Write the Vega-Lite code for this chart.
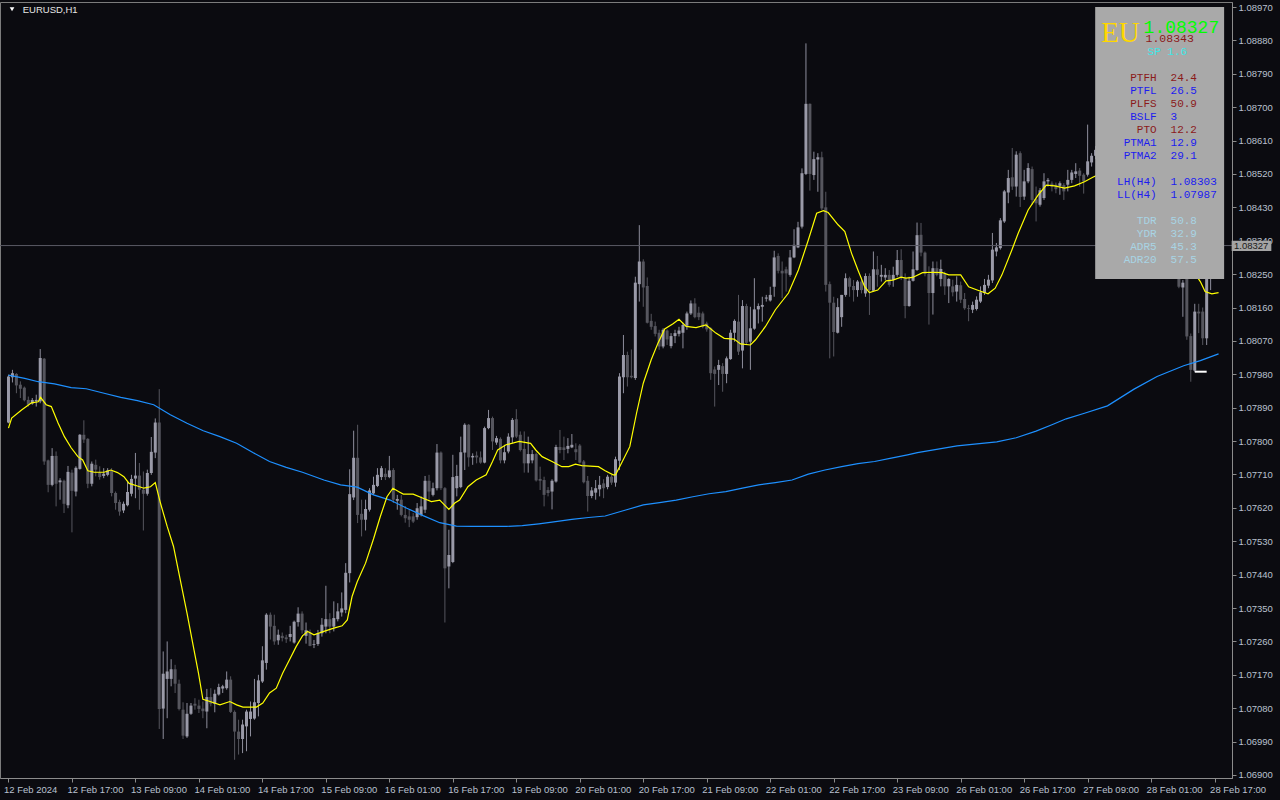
{
"$schema":"https://vega.github.io/schema/vega-lite/v6.json",
"width":1232,"height":776,
"autosize":{"type":"none"},
"padding":{"left":0,"top":2,"right":48,"bottom":22},
"background":"#0b0b10",
"config":{"view":{"stroke":"#7c7c7c","fill":"#0b0b10"},"axis":{"grid":false,"labelColor":"#b9c1cf","labelFont":"Liberation Sans","labelFontSize":9.5,"domainColor":"#8c8c8c","tickColor":"#8c8c8c","tickSize":4,"labelPadding":2,"labelFlush":false,"labelOverlap":false}},
"datasets":{
"bars":[
{"i":0,"o":1.07850,"h":1.07979,"l":1.07848,"c":1.07974},
{"i":1,"o":1.07972,"h":1.07992,"l":1.07958,"c":1.07983},
{"i":2,"o":1.07981,"h":1.07983,"l":1.07929,"c":1.07950},
{"i":3,"o":1.07952,"h":1.07961,"l":1.07916,"c":1.07941},
{"i":4,"o":1.07944,"h":1.07947,"l":1.07907,"c":1.07910},
{"i":5,"o":1.07911,"h":1.07920,"l":1.07893,"c":1.07898},
{"i":6,"o":1.07901,"h":1.07916,"l":1.07898,"c":1.07911},
{"i":7,"o":1.07907,"h":1.07925,"l":1.07893,"c":1.07911},
{"i":8,"o":1.07907,"h":1.08048,"l":1.07902,"c":1.08024},
{"i":9,"o":1.08022,"h":1.08024,"l":1.07736,"c":1.07745},
{"i":10,"o":1.07748,"h":1.07750,"l":1.07662,"c":1.07682},
{"i":11,"o":1.07682,"h":1.07781,"l":1.07678,"c":1.07760},
{"i":12,"o":1.07760,"h":1.07772,"l":1.07624,"c":1.07685},
{"i":13,"o":1.07689,"h":1.07700,"l":1.07642,"c":1.07694},
{"i":14,"o":1.07693,"h":1.07696,"l":1.07606,"c":1.07631},
{"i":15,"o":1.07627,"h":1.07733,"l":1.07619,"c":1.07717},
{"i":16,"o":1.07715,"h":1.07723,"l":1.07554,"c":1.07666},
{"i":17,"o":1.07664,"h":1.07732,"l":1.07651,"c":1.07728},
{"i":18,"o":1.07725,"h":1.07819,"l":1.07723,"c":1.07817},
{"i":19,"o":1.07817,"h":1.07856,"l":1.07795,"c":1.07804},
{"i":20,"o":1.07806,"h":1.07808,"l":1.07673,"c":1.07685},
{"i":21,"o":1.07685,"h":1.07745,"l":1.07678,"c":1.07739},
{"i":22,"o":1.07736,"h":1.07750,"l":1.07705,"c":1.07723},
{"i":23,"o":1.07715,"h":1.07732,"l":1.07696,"c":1.07703},
{"i":24,"o":1.07706,"h":1.07727,"l":1.07700,"c":1.07712},
{"i":25,"o":1.07709,"h":1.07727,"l":1.07705,"c":1.07721},
{"i":26,"o":1.07720,"h":1.07727,"l":1.07651,"c":1.07660},
{"i":27,"o":1.07660,"h":1.07664,"l":1.07615,"c":1.07633},
{"i":28,"o":1.07636,"h":1.07642,"l":1.07599,"c":1.07610},
{"i":29,"o":1.07613,"h":1.07637,"l":1.07606,"c":1.07631},
{"i":30,"o":1.07627,"h":1.07691,"l":1.07624,"c":1.07663},
{"i":31,"o":1.07658,"h":1.07709,"l":1.07651,"c":1.07698},
{"i":32,"o":1.07699,"h":1.07768,"l":1.07646,"c":1.07707},
{"i":33,"o":1.07707,"h":1.07741,"l":1.07615,"c":1.07669},
{"i":34,"o":1.07669,"h":1.07718,"l":1.07559,"c":1.07658},
{"i":35,"o":1.07658,"h":1.07723,"l":1.07653,"c":1.07714},
{"i":36,"o":1.07714,"h":1.07811,"l":1.07709,"c":1.07771},
{"i":37,"o":1.07769,"h":1.07861,"l":1.07754,"c":1.07850},
{"i":38,"o":1.07850,"h":1.07940,"l":1.07024,"c":1.07078},
{"i":39,"o":1.07079,"h":1.07233,"l":1.06997,"c":1.07173},
{"i":40,"o":1.07159,"h":1.07260,"l":1.07053,"c":1.07179},
{"i":41,"o":1.07159,"h":1.07212,"l":1.07139,"c":1.07185},
{"i":42,"o":1.07185,"h":1.07197,"l":1.07121,"c":1.07146},
{"i":43,"o":1.07146,"h":1.07157,"l":1.07074,"c":1.07078},
{"i":44,"o":1.07076,"h":1.07096,"l":1.06997,"c":1.07006},
{"i":45,"o":1.07004,"h":1.07094,"l":1.07000,"c":1.07065},
{"i":46,"o":1.07065,"h":1.07094,"l":1.07062,"c":1.07087},
{"i":47,"o":1.07092,"h":1.07107,"l":1.07076,"c":1.07087},
{"i":48,"o":1.07087,"h":1.07103,"l":1.07067,"c":1.07078},
{"i":49,"o":1.07079,"h":1.07098,"l":1.07053,"c":1.07072},
{"i":50,"o":1.07071,"h":1.07132,"l":1.07026,"c":1.07110},
{"i":51,"o":1.07110,"h":1.07134,"l":1.07085,"c":1.07092},
{"i":52,"o":1.07092,"h":1.07130,"l":1.07069,"c":1.07119},
{"i":53,"o":1.07117,"h":1.07146,"l":1.07114,"c":1.07137},
{"i":54,"o":1.07133,"h":1.07143,"l":1.07121,"c":1.07139},
{"i":55,"o":1.07134,"h":1.07179,"l":1.07130,"c":1.07157},
{"i":56,"o":1.07157,"h":1.07166,"l":1.07067,"c":1.07070},
{"i":57,"o":1.07070,"h":1.07074,"l":1.06941,"c":1.07017},
{"i":58,"o":1.07017,"h":1.07049,"l":1.06955,"c":1.06997},
{"i":59,"o":1.06997,"h":1.07049,"l":1.06959,"c":1.07036},
{"i":60,"o":1.07031,"h":1.07076,"l":1.06964,"c":1.07071},
{"i":61,"o":1.07051,"h":1.07098,"l":1.07004,"c":1.07071},
{"i":62,"o":1.07052,"h":1.07159,"l":1.07049,"c":1.07096},
{"i":63,"o":1.07094,"h":1.07170,"l":1.07058,"c":1.07155},
{"i":64,"o":1.07152,"h":1.07247,"l":1.07148,"c":1.07209},
{"i":65,"o":1.07202,"h":1.07336,"l":1.07184,"c":1.07332},
{"i":66,"o":1.07332,"h":1.07338,"l":1.07265,"c":1.07300},
{"i":67,"o":1.07302,"h":1.07332,"l":1.07251,"c":1.07260},
{"i":68,"o":1.07263,"h":1.07292,"l":1.07251,"c":1.07278},
{"i":69,"o":1.07275,"h":1.07284,"l":1.07260,"c":1.07269},
{"i":70,"o":1.07271,"h":1.07278,"l":1.07256,"c":1.07266},
{"i":71,"o":1.07272,"h":1.07302,"l":1.07260,"c":1.07280},
{"i":72,"o":1.07257,"h":1.07316,"l":1.07254,"c":1.07313},
{"i":73,"o":1.07312,"h":1.07352,"l":1.07300,"c":1.07335},
{"i":74,"o":1.07335,"h":1.07341,"l":1.07281,"c":1.07290},
{"i":75,"o":1.07275,"h":1.07311,"l":1.07254,"c":1.07290},
{"i":76,"o":1.07284,"h":1.07292,"l":1.07247,"c":1.07248},
{"i":77,"o":1.07251,"h":1.07264,"l":1.07242,"c":1.07253},
{"i":78,"o":1.07253,"h":1.07291,"l":1.07248,"c":1.07282},
{"i":79,"o":1.07282,"h":1.07323,"l":1.07273,"c":1.07305},
{"i":80,"o":1.07300,"h":1.07410,"l":1.07282,"c":1.07320},
{"i":81,"o":1.07320,"h":1.07336,"l":1.07282,"c":1.07300},
{"i":82,"o":1.07300,"h":1.07368,"l":1.07287,"c":1.07323},
{"i":83,"o":1.07320,"h":1.07363,"l":1.07314,"c":1.07341},
{"i":84,"o":1.07338,"h":1.07392,"l":1.07327,"c":1.07349},
{"i":85,"o":1.07345,"h":1.07471,"l":1.07336,"c":1.07445},
{"i":86,"o":1.07444,"h":1.07724,"l":1.07419,"c":1.07657},
{"i":87,"o":1.07648,"h":1.07828,"l":1.07641,"c":1.07755},
{"i":88,"o":1.07755,"h":1.07844,"l":1.07579,"c":1.07601},
{"i":89,"o":1.07604,"h":1.07642,"l":1.07543,"c":1.07588},
{"i":90,"o":1.07588,"h":1.07642,"l":1.07559,"c":1.07617},
{"i":91,"o":1.07615,"h":1.07673,"l":1.07610,"c":1.07667},
{"i":92,"o":1.07659,"h":1.07704,"l":1.07655,"c":1.07682},
{"i":93,"o":1.07679,"h":1.07727,"l":1.07676,"c":1.07709},
{"i":94,"o":1.07703,"h":1.07733,"l":1.07695,"c":1.07727},
{"i":95,"o":1.07712,"h":1.07727,"l":1.07695,"c":1.07703},
{"i":96,"o":1.07703,"h":1.07760,"l":1.07700,"c":1.07721},
{"i":97,"o":1.07722,"h":1.07727,"l":1.07633,"c":1.07642},
{"i":98,"o":1.07639,"h":1.07655,"l":1.07615,"c":1.07644},
{"i":99,"o":1.07642,"h":1.07655,"l":1.07597,"c":1.07601},
{"i":100,"o":1.07601,"h":1.07625,"l":1.07580,"c":1.07592},
{"i":101,"o":1.07597,"h":1.07615,"l":1.07568,"c":1.07588},
{"i":102,"o":1.07597,"h":1.07606,"l":1.07579,"c":1.07583},
{"i":103,"o":1.07595,"h":1.07633,"l":1.07588,"c":1.07619},
{"i":104,"o":1.07601,"h":1.07651,"l":1.07597,"c":1.07624},
{"i":105,"o":1.07615,"h":1.07706,"l":1.07606,"c":1.07693},
{"i":106,"o":1.07693,"h":1.07709,"l":1.07642,"c":1.07664},
{"i":107,"o":1.07655,"h":1.07688,"l":1.07651,"c":1.07673},
{"i":108,"o":1.07673,"h":1.07792,"l":1.07667,"c":1.07769},
{"i":109,"o":1.07769,"h":1.07772,"l":1.07668,"c":1.07673},
{"i":110,"o":1.07673,"h":1.07676,"l":1.07311,"c":1.07457},
{"i":111,"o":1.07462,"h":1.07561,"l":1.07403,"c":1.07493},
{"i":112,"o":1.07474,"h":1.07763,"l":1.07471,"c":1.07703},
{"i":113,"o":1.07673,"h":1.07736,"l":1.07651,"c":1.07706},
{"i":114,"o":1.07676,"h":1.07812,"l":1.07673,"c":1.07770},
{"i":115,"o":1.07769,"h":1.07848,"l":1.07722,"c":1.07844},
{"i":116,"o":1.07844,"h":1.07846,"l":1.07731,"c":1.07756},
{"i":117,"o":1.07756,"h":1.07767,"l":1.07736,"c":1.07760},
{"i":118,"o":1.07761,"h":1.07772,"l":1.07740,"c":1.07756},
{"i":119,"o":1.07756,"h":1.07772,"l":1.07739,"c":1.07742},
{"i":120,"o":1.07742,"h":1.07839,"l":1.07740,"c":1.07835},
{"i":121,"o":1.07835,"h":1.07884,"l":1.07832,"c":1.07862},
{"i":122,"o":1.07862,"h":1.07866,"l":1.07776,"c":1.07799},
{"i":123,"o":1.07796,"h":1.07814,"l":1.07790,"c":1.07808},
{"i":124,"o":1.07806,"h":1.07810,"l":1.07740,"c":1.07748},
{"i":125,"o":1.07748,"h":1.07790,"l":1.07740,"c":1.07770},
{"i":126,"o":1.07772,"h":1.07821,"l":1.07767,"c":1.07812},
{"i":127,"o":1.07810,"h":1.07862,"l":1.07794,"c":1.07857},
{"i":128,"o":1.07859,"h":1.07886,"l":1.07808,"c":1.07812},
{"i":129,"o":1.07817,"h":1.07826,"l":1.07772,"c":1.07776},
{"i":130,"o":1.07779,"h":1.07826,"l":1.07715,"c":1.07740},
{"i":131,"o":1.07740,"h":1.07812,"l":1.07715,"c":1.07765},
{"i":132,"o":1.07748,"h":1.07776,"l":1.07740,"c":1.07765},
{"i":133,"o":1.07765,"h":1.07769,"l":1.07691,"c":1.07694},
{"i":134,"o":1.07698,"h":1.07731,"l":1.07668,"c":1.07693},
{"i":135,"o":1.07695,"h":1.07704,"l":1.07624,"c":1.07655},
{"i":136,"o":1.07668,"h":1.07676,"l":1.07651,"c":1.07660},
{"i":137,"o":1.07664,"h":1.07697,"l":1.07616,"c":1.07693},
{"i":138,"o":1.07691,"h":1.07790,"l":1.07688,"c":1.07784},
{"i":139,"o":1.07784,"h":1.07830,"l":1.07767,"c":1.07776},
{"i":140,"o":1.07783,"h":1.07812,"l":1.07749,"c":1.07776},
{"i":141,"o":1.07779,"h":1.07808,"l":1.07767,"c":1.07787},
{"i":142,"o":1.07783,"h":1.07819,"l":1.07781,"c":1.07790},
{"i":143,"o":1.07778,"h":1.07794,"l":1.07749,"c":1.07770},
{"i":144,"o":1.07788,"h":1.07792,"l":1.07740,"c":1.07742},
{"i":145,"o":1.07745,"h":1.07749,"l":1.07686,"c":1.07689},
{"i":146,"o":1.07693,"h":1.07706,"l":1.07610,"c":1.07652},
{"i":147,"o":1.07652,"h":1.07676,"l":1.07646,"c":1.07667},
{"i":148,"o":1.07661,"h":1.07695,"l":1.07642,"c":1.07673},
{"i":149,"o":1.07670,"h":1.07706,"l":1.07651,"c":1.07682},
{"i":150,"o":1.07686,"h":1.07697,"l":1.07646,"c":1.07673},
{"i":151,"o":1.07676,"h":1.07709,"l":1.07670,"c":1.07704},
{"i":152,"o":1.07704,"h":1.07709,"l":1.07682,"c":1.07688},
{"i":153,"o":1.07688,"h":1.07758,"l":1.07677,"c":1.07751},
{"i":154,"o":1.07747,"h":1.07983,"l":1.07722,"c":1.07974},
{"i":155,"o":1.07972,"h":1.08086,"l":1.07929,"c":1.08032},
{"i":156,"o":1.08032,"h":1.08041,"l":1.07947,"c":1.07972},
{"i":157,"o":1.07976,"h":1.08047,"l":1.07969,"c":1.07972},
{"i":158,"o":1.07970,"h":1.08243,"l":1.07965,"c":1.08227},
{"i":159,"o":1.08223,"h":1.08382,"l":1.08176,"c":1.08284},
{"i":160,"o":1.08284,"h":1.08290,"l":1.08162,"c":1.08214},
{"i":161,"o":1.08218,"h":1.08241,"l":1.08117,"c":1.08119},
{"i":162,"o":1.08124,"h":1.08143,"l":1.08100,"c":1.08108},
{"i":163,"o":1.08110,"h":1.08122,"l":1.08082,"c":1.08089},
{"i":164,"o":1.08092,"h":1.08100,"l":1.08046,"c":1.08055},
{"i":165,"o":1.08055,"h":1.08104,"l":1.08050,"c":1.08100},
{"i":166,"o":1.08098,"h":1.08101,"l":1.08059,"c":1.08074},
{"i":167,"o":1.08056,"h":1.08091,"l":1.08050,"c":1.08083},
{"i":168,"o":1.08083,"h":1.08100,"l":1.08064,"c":1.08091},
{"i":169,"o":1.08089,"h":1.08108,"l":1.08082,"c":1.08098},
{"i":170,"o":1.08092,"h":1.08119,"l":1.08050,"c":1.08113},
{"i":171,"o":1.08111,"h":1.08149,"l":1.08100,"c":1.08144},
{"i":172,"o":1.08144,"h":1.08179,"l":1.08140,"c":1.08171},
{"i":173,"o":1.08171,"h":1.08185,"l":1.08131,"c":1.08134},
{"i":174,"o":1.08146,"h":1.08162,"l":1.08126,"c":1.08134},
{"i":175,"o":1.08144,"h":1.08149,"l":1.08104,"c":1.08108},
{"i":176,"o":1.08117,"h":1.08122,"l":1.08095,"c":1.08101},
{"i":177,"o":1.08104,"h":1.08107,"l":1.07965,"c":1.07983},
{"i":178,"o":1.07993,"h":1.08001,"l":1.07893,"c":1.07981},
{"i":179,"o":1.07992,"h":1.08019,"l":1.07951,"c":1.08005},
{"i":180,"o":1.08002,"h":1.08010,"l":1.07933,"c":1.07981},
{"i":181,"o":1.07981,"h":1.08028,"l":1.07956,"c":1.08023},
{"i":182,"o":1.08021,"h":1.08100,"l":1.08019,"c":1.08092},
{"i":183,"o":1.08092,"h":1.08128,"l":1.08068,"c":1.08124},
{"i":184,"o":1.08122,"h":1.08194,"l":1.08032,"c":1.08041},
{"i":185,"o":1.08044,"h":1.08180,"l":1.07996,"c":1.08164},
{"i":186,"o":1.08164,"h":1.08170,"l":1.08059,"c":1.08065},
{"i":187,"o":1.08068,"h":1.08162,"l":1.07992,"c":1.08104},
{"i":188,"o":1.08103,"h":1.08239,"l":1.08100,"c":1.08155},
{"i":189,"o":1.08155,"h":1.08171,"l":1.08117,"c":1.08164},
{"i":190,"o":1.08162,"h":1.08189,"l":1.08122,"c":1.08167},
{"i":191,"o":1.08184,"h":1.08194,"l":1.08176,"c":1.08187},
{"i":192,"o":1.08179,"h":1.08216,"l":1.08176,"c":1.08194},
{"i":193,"o":1.08216,"h":1.08313,"l":1.08189,"c":1.08295},
{"i":194,"o":1.08299,"h":1.08306,"l":1.08252,"c":1.08259},
{"i":195,"o":1.08259,"h":1.08284,"l":1.08185,"c":1.08252},
{"i":196,"o":1.08263,"h":1.08270,"l":1.08203,"c":1.08252},
{"i":197,"o":1.08248,"h":1.08315,"l":1.08243,"c":1.08295},
{"i":198,"o":1.08295,"h":1.08371,"l":1.08293,"c":1.08329},
{"i":199,"o":1.08322,"h":1.08391,"l":1.08320,"c":1.08376},
{"i":200,"o":1.08378,"h":1.08535,"l":1.08373,"c":1.08522},
{"i":201,"o":1.08520,"h":1.08872,"l":1.08517,"c":1.08709},
{"i":202,"o":1.08709,"h":1.08710,"l":1.08475,"c":1.08520},
{"i":203,"o":1.08517,"h":1.08580,"l":1.08504,"c":1.08560},
{"i":204,"o":1.08559,"h":1.08576,"l":1.08472,"c":1.08565},
{"i":205,"o":1.08565,"h":1.08580,"l":1.08423,"c":1.08427},
{"i":206,"o":1.08430,"h":1.08472,"l":1.08203,"c":1.08221},
{"i":207,"o":1.08223,"h":1.08230,"l":1.08023,"c":1.08173},
{"i":208,"o":1.08173,"h":1.08189,"l":1.08028,"c":1.08094},
{"i":209,"o":1.08092,"h":1.08185,"l":1.08090,"c":1.08161},
{"i":210,"o":1.08134,"h":1.08194,"l":1.08108,"c":1.08194},
{"i":211,"o":1.08194,"h":1.08252,"l":1.08189,"c":1.08239},
{"i":212,"o":1.08239,"h":1.08243,"l":1.08189,"c":1.08216},
{"i":213,"o":1.08218,"h":1.08234,"l":1.08176,"c":1.08207},
{"i":214,"o":1.08207,"h":1.08234,"l":1.08189,"c":1.08230},
{"i":215,"o":1.08230,"h":1.08241,"l":1.08198,"c":1.08207},
{"i":216,"o":1.08198,"h":1.08252,"l":1.08189,"c":1.08245},
{"i":217,"o":1.08245,"h":1.08252,"l":1.08140,"c":1.08207},
{"i":218,"o":1.08205,"h":1.08311,"l":1.08203,"c":1.08263},
{"i":219,"o":1.08263,"h":1.08299,"l":1.08216,"c":1.08248},
{"i":220,"o":1.08243,"h":1.08275,"l":1.08230,"c":1.08248},
{"i":221,"o":1.08241,"h":1.08266,"l":1.08234,"c":1.08248},
{"i":222,"o":1.08248,"h":1.08261,"l":1.08216,"c":1.08221},
{"i":223,"o":1.08234,"h":1.08270,"l":1.08216,"c":1.08248},
{"i":224,"o":1.08248,"h":1.08315,"l":1.08243,"c":1.08288},
{"i":225,"o":1.08288,"h":1.08317,"l":1.08234,"c":1.08239},
{"i":226,"o":1.08239,"h":1.08252,"l":1.08131,"c":1.08164},
{"i":227,"o":1.08164,"h":1.08243,"l":1.08162,"c":1.08232},
{"i":228,"o":1.08232,"h":1.08311,"l":1.08230,"c":1.08263},
{"i":229,"o":1.08261,"h":1.08389,"l":1.08259,"c":1.08355},
{"i":230,"o":1.08356,"h":1.08388,"l":1.08298,"c":1.08308},
{"i":231,"o":1.08308,"h":1.08311,"l":1.08244,"c":1.08251},
{"i":232,"o":1.08251,"h":1.08271,"l":1.08114,"c":1.08199},
{"i":233,"o":1.08199,"h":1.08284,"l":1.08141,"c":1.08266},
{"i":234,"o":1.08266,"h":1.08284,"l":1.08244,"c":1.08248},
{"i":235,"o":1.08237,"h":1.08289,"l":1.08217,"c":1.08264},
{"i":236,"o":1.08251,"h":1.08257,"l":1.08194,"c":1.08217},
{"i":237,"o":1.08217,"h":1.08239,"l":1.08172,"c":1.08237},
{"i":238,"o":1.08217,"h":1.08235,"l":1.08190,"c":1.08201},
{"i":239,"o":1.08203,"h":1.08244,"l":1.08176,"c":1.08221},
{"i":240,"o":1.08220,"h":1.08230,"l":1.08172,"c":1.08181},
{"i":241,"o":1.08183,"h":1.08199,"l":1.08154,"c":1.08158},
{"i":242,"o":1.08158,"h":1.08167,"l":1.08123,"c":1.08156},
{"i":243,"o":1.08154,"h":1.08176,"l":1.08145,"c":1.08167},
{"i":244,"o":1.08156,"h":1.08190,"l":1.08152,"c":1.08181},
{"i":245,"o":1.08176,"h":1.08217,"l":1.08172,"c":1.08201},
{"i":246,"o":1.08199,"h":1.08237,"l":1.08194,"c":1.08221},
{"i":247,"o":1.08219,"h":1.08248,"l":1.08212,"c":1.08235},
{"i":248,"o":1.08233,"h":1.08361,"l":1.08226,"c":1.08316},
{"i":249,"o":1.08311,"h":1.08334,"l":1.08298,"c":1.08322},
{"i":250,"o":1.08320,"h":1.08401,"l":1.08316,"c":1.08395},
{"i":251,"o":1.08392,"h":1.08477,"l":1.08388,"c":1.08473},
{"i":252,"o":1.08470,"h":1.08531,"l":1.08441,"c":1.08509},
{"i":253,"o":1.08511,"h":1.08590,"l":1.08477,"c":1.08486},
{"i":254,"o":1.08486,"h":1.08581,"l":1.08459,"c":1.08572},
{"i":255,"o":1.08576,"h":1.08581,"l":1.08431,"c":1.08458},
{"i":256,"o":1.08459,"h":1.08531,"l":1.08450,"c":1.08500},
{"i":257,"o":1.08500,"h":1.08549,"l":1.08495,"c":1.08536},
{"i":258,"o":1.08533,"h":1.08540,"l":1.08437,"c":1.08450},
{"i":259,"o":1.08452,"h":1.08486,"l":1.08392,"c":1.08441},
{"i":260,"o":1.08437,"h":1.08482,"l":1.08432,"c":1.08476},
{"i":261,"o":1.08455,"h":1.08522,"l":1.08450,"c":1.08500},
{"i":262,"o":1.08500,"h":1.08509,"l":1.08486,"c":1.08504},
{"i":263,"o":1.08494,"h":1.08500,"l":1.08473,"c":1.08486},
{"i":264,"o":1.08491,"h":1.08497,"l":1.08468,"c":1.08479},
{"i":265,"o":1.08488,"h":1.08500,"l":1.08464,"c":1.08495},
{"i":266,"o":1.08490,"h":1.08495,"l":1.08450,"c":1.08473},
{"i":267,"o":1.08491,"h":1.08531,"l":1.08473,"c":1.08504},
{"i":268,"o":1.08504,"h":1.08531,"l":1.08495,"c":1.08524},
{"i":269,"o":1.08520,"h":1.08549,"l":1.08509,"c":1.08527},
{"i":270,"o":1.08529,"h":1.08536,"l":1.08486,"c":1.08515},
{"i":271,"o":1.08518,"h":1.08522,"l":1.08467,"c":1.08500},
{"i":272,"o":1.08518,"h":1.08653,"l":1.08513,"c":1.08554},
{"i":273,"o":1.08551,"h":1.08576,"l":1.08540,"c":1.08569},
{"i":274,"o":1.08569,"h":1.08595,"l":1.08560,"c":1.08585},
{"i":275,"o":1.08585,"h":1.08610,"l":1.08575,"c":1.08598},
{"i":276,"o":1.08598,"h":1.08605,"l":1.08570,"c":1.08578},
{"i":277,"o":1.08578,"h":1.08592,"l":1.08560,"c":1.08588},
{"i":278,"o":1.08588,"h":1.08620,"l":1.08580,"c":1.08610},
{"i":279,"o":1.08610,"h":1.08625,"l":1.08590,"c":1.08596},
{"i":280,"o":1.08596,"h":1.08602,"l":1.08565,"c":1.08572},
{"i":281,"o":1.08572,"h":1.08590,"l":1.08555,"c":1.08580},
{"i":282,"o":1.08580,"h":1.08598,"l":1.08560,"c":1.08565},
{"i":283,"o":1.08565,"h":1.08575,"l":1.08530,"c":1.08540},
{"i":284,"o":1.08540,"h":1.08560,"l":1.08525,"c":1.08552},
{"i":285,"o":1.08552,"h":1.08565,"l":1.08510,"c":1.08518},
{"i":286,"o":1.08518,"h":1.08530,"l":1.08480,"c":1.08490},
{"i":287,"o":1.08490,"h":1.08505,"l":1.08455,"c":1.08465},
{"i":288,"o":1.08465,"h":1.08480,"l":1.08430,"c":1.08440},
{"i":289,"o":1.08440,"h":1.08455,"l":1.08400,"c":1.08410},
{"i":290,"o":1.08410,"h":1.08425,"l":1.08370,"c":1.08385},
{"i":291,"o":1.08385,"h":1.08400,"l":1.08340,"c":1.08350},
{"i":292,"o":1.08350,"h":1.08365,"l":1.08310,"c":1.08320},
{"i":293,"o":1.08320,"h":1.08335,"l":1.08290,"c":1.08300},
{"i":294,"o":1.08300,"h":1.08318,"l":1.08270,"c":1.08290},
{"i":295,"o":1.08290,"h":1.08300,"l":1.08212,"c":1.08216},
{"i":296,"o":1.08214,"h":1.08234,"l":1.08135,"c":1.08227},
{"i":297,"o":1.08240,"h":1.08255,"l":1.08073,"c":1.08082},
{"i":298,"o":1.08083,"h":1.08090,"l":1.07960,"c":1.07992},
{"i":299,"o":1.07990,"h":1.08170,"l":1.07987,"c":1.08149},
{"i":300,"o":1.08149,"h":1.08170,"l":1.08091,"c":1.08144},
{"i":301,"o":1.08149,"h":1.08160,"l":1.08059,"c":1.08077},
{"i":302,"o":1.08077,"h":1.08265,"l":1.08059,"c":1.08250},
{"i":303,"o":1.08250,"h":1.08320,"l":1.08207,"c":1.08300},
{"i":304,"o":1.08300,"h":1.08345,"l":1.08285,"c":1.08335},
{"i":305,"o":1.08335,"h":1.08348,"l":1.08318,"c":1.08327}
],
"ma_fast":[
{"i":0,"v":1.07835},{"i":0.8,"v":1.07862},{"i":3.3,"v":1.07884},{"i":5.8,"v":1.07903},{"i":7.5,"v":1.07906},{"i":8.1,"v":1.07918},{"i":9.5,"v":1.07898},{"i":10.8,"v":1.07893},{"i":12.5,"v":1.07849},{"i":14.1,"v":1.07812},{"i":15.8,"v":1.07782},{"i":17.5,"v":1.07758},{"i":18.7,"v":1.07749},{"i":20.0,"v":1.07720},{"i":21.6,"v":1.07716},{"i":24.1,"v":1.07716},{"i":25.8,"v":1.07722},{"i":27.5,"v":1.07715},{"i":29.1,"v":1.07704},{"i":30.4,"v":1.07686},{"i":32.5,"v":1.07679},{"i":34.1,"v":1.07673},{"i":35.8,"v":1.07677},{"i":37.0,"v":1.07688},{"i":38.3,"v":1.07633},{"i":40.0,"v":1.07570},{"i":41.6,"v":1.07516},{"i":43.3,"v":1.07426},{"i":45.0,"v":1.07336},{"i":46.6,"v":1.07246},{"i":47.9,"v":1.07174},{"i":49.0,"v":1.07104},{"i":50.8,"v":1.07098},{"i":53.3,"v":1.07089},{"i":55.8,"v":1.07098},{"i":57.5,"v":1.07089},{"i":59.1,"v":1.07083},{"i":62.5,"v":1.07083},{"i":64.1,"v":1.07094},{"i":65.8,"v":1.07121},{"i":67.5,"v":1.07134},{"i":69.1,"v":1.07174},{"i":70.8,"v":1.07210},{"i":72.5,"v":1.07246},{"i":74.1,"v":1.07275},{"i":75.4,"v":1.07287},{"i":77.0,"v":1.07278},{"i":79.5,"v":1.07287},{"i":82.0,"v":1.07296},{"i":84.1,"v":1.07302},{"i":85.4,"v":1.07318},{"i":86.6,"v":1.07381},{"i":87.9,"v":1.07421},{"i":90.0,"v":1.07471},{"i":92.0,"v":1.07536},{"i":93.7,"v":1.07596},{"i":95.4,"v":1.07650},{"i":96.9,"v":1.07673},{"i":98.3,"v":1.07664},{"i":99.5,"v":1.07657},{"i":102.0,"v":1.07657},{"i":104.5,"v":1.07646},{"i":106.6,"v":1.07637},{"i":108.7,"v":1.07641},{"i":111.0,"v":1.07616},{"i":112.5,"v":1.07633},{"i":113.7,"v":1.07641},{"i":115.8,"v":1.07677},{"i":117.9,"v":1.07695},{"i":120.4,"v":1.07709},{"i":122.0,"v":1.07745},{"i":123.3,"v":1.07776},{"i":125.4,"v":1.07790},{"i":128.7,"v":1.07799},{"i":131.6,"v":1.07794},{"i":132.9,"v":1.07776},{"i":134.5,"v":1.07758},{"i":137.0,"v":1.07745},{"i":139.5,"v":1.07731},{"i":141.2,"v":1.07731},{"i":142.9,"v":1.07738},{"i":144.5,"v":1.07734},{"i":148.7,"v":1.07731},{"i":150.4,"v":1.07720},{"i":152.4,"v":1.07709},{"i":153.0,"v":1.07709},{"i":154.5,"v":1.07740},{"i":156.6,"v":1.07785},{"i":158.3,"v":1.07875},{"i":160.0,"v":1.07956},{"i":162.0,"v":1.08019},{"i":163.7,"v":1.08064},{"i":165.4,"v":1.08102},{"i":167.5,"v":1.08116},{"i":169.0,"v":1.08128},{"i":170.8,"v":1.08109},{"i":173.3,"v":1.08106},{"i":175.8,"v":1.08113},{"i":178.3,"v":1.08091},{"i":180.4,"v":1.08077},{"i":182.9,"v":1.08075},{"i":184.5,"v":1.08062},{"i":187.0,"v":1.08059},{"i":188.3,"v":1.08073},{"i":190.8,"v":1.08109},{"i":193.3,"v":1.08154},{"i":196.6,"v":1.08199},{"i":199.1,"v":1.08261},{"i":201.6,"v":1.08342},{"i":203.7,"v":1.08414},{"i":205.4,"v":1.08421},{"i":206.6,"v":1.08416},{"i":209.1,"v":1.08383},{"i":210.8,"v":1.08365},{"i":212.5,"v":1.08306},{"i":214.1,"v":1.08261},{"i":215.8,"v":1.08216},{"i":217.0,"v":1.08200},{"i":219.1,"v":1.08207},{"i":221.2,"v":1.08232},{"i":222.9,"v":1.08234},{"i":225.0,"v":1.08242},{"i":226.2,"v":1.08239},{"i":227.9,"v":1.08241},{"i":230.4,"v":1.08254},{"i":232.9,"v":1.08255},{"i":235.4,"v":1.08254},{"i":237.0,"v":1.08248},{"i":240.0,"v":1.08248},{"i":242.0,"v":1.08216},{"i":244.5,"v":1.08206},{"i":246.9,"v":1.08197},{"i":248.7,"v":1.08212},{"i":250.4,"v":1.08248},{"i":252.9,"v":1.08315},{"i":254.5,"v":1.08360},{"i":257.0,"v":1.08423},{"i":259.5,"v":1.08463},{"i":261.6,"v":1.08490},{"i":263.7,"v":1.08488},{"i":266.2,"v":1.08482},{"i":268.7,"v":1.08488},{"i":271.2,"v":1.08499},{"i":273.3,"v":1.08511},{"i":278,"v":1.08535},{"i":284,"v":1.08525},{"i":290,"v":1.08440},{"i":296,"v":1.08300},{"i":300.4,"v":1.08230},{"i":301.6,"v":1.08203},{"i":303.3,"v":1.08197},{"i":305.0,"v":1.08200}
],
"ma_slow":[
{"i":0,"v":1.07978},{"i":4.1,"v":1.07969},{"i":7.5,"v":1.07960},{"i":11.6,"v":1.07954},{"i":15.8,"v":1.07944},{"i":19.6,"v":1.07941},{"i":24.1,"v":1.07929},{"i":28.3,"v":1.07918},{"i":32.5,"v":1.07909},{"i":36.6,"v":1.07898},{"i":40.8,"v":1.07871},{"i":45.0,"v":1.07848},{"i":49.1,"v":1.07828},{"i":53.3,"v":1.07812},{"i":57.5,"v":1.07794},{"i":61.6,"v":1.07769},{"i":65.8,"v":1.07745},{"i":70.0,"v":1.07729},{"i":74.1,"v":1.07716},{"i":79.5,"v":1.07695},{"i":83.7,"v":1.07682},{"i":87.9,"v":1.07676},{"i":92.0,"v":1.07655},{"i":96.2,"v":1.07641},{"i":100.4,"v":1.07619},{"i":104.5,"v":1.07599},{"i":108.7,"v":1.07580},{"i":112.9,"v":1.07571},{"i":117.0,"v":1.07570},{"i":125.4,"v":1.07570},{"i":129.5,"v":1.07572},{"i":133.7,"v":1.07577},{"i":137.9,"v":1.07583},{"i":142.0,"v":1.07589},{"i":146.2,"v":1.07594},{"i":150.4,"v":1.07598},{"i":155.8,"v":1.07615},{"i":160.0,"v":1.07628},{"i":164.1,"v":1.07634},{"i":168.3,"v":1.07641},{"i":172.5,"v":1.07650},{"i":176.6,"v":1.07658},{"i":180.8,"v":1.07664},{"i":185.0,"v":1.07673},{"i":189.1,"v":1.07682},{"i":193.3,"v":1.07688},{"i":197.5,"v":1.07695},{"i":201.6,"v":1.07711},{"i":205.8,"v":1.07722},{"i":210.0,"v":1.07731},{"i":214.1,"v":1.07739},{"i":218.3,"v":1.07745},{"i":222.5,"v":1.07754},{"i":226.6,"v":1.07763},{"i":229.1,"v":1.07769},{"i":239.1,"v":1.07787},{"i":249.1,"v":1.07798},{"i":254.0,"v":1.07809},{"i":259.0,"v":1.07827},{"i":263.0,"v":1.07844},{"i":266.6,"v":1.07860},{"i":271.2,"v":1.07875},{"i":277.0,"v":1.07895},{"i":283.7,"v":1.07940},{"i":289.5,"v":1.07974},{"i":296.2,"v":1.08003},{"i":300.4,"v":1.08017},{"i":305.0,"v":1.08035}
],
"levels":[{"kind":"bid","p":1.08327}],
"lowmark":[{"start":299,"end":302,"p":1.07987}],
"info":[
{"name":"PTFH","val":"24.4","grp":"r","p":1.08771},
{"name":"PTFL","val":"26.5","grp":"b","p":1.08736},
{"name":"PLFS","val":"50.9","grp":"r","p":1.08701},
{"name":"BSLF","val":"3","grp":"b","p":1.08666},
{"name":"PTO","val":"12.2","grp":"r","p":1.08631},
{"name":"PTMA1","val":"12.9","grp":"b","p":1.08596},
{"name":"PTMA2","val":"29.1","grp":"b","p":1.08560},
{"name":"LH(H4)","val":"1.08303","grp":"b","p":1.08490},
{"name":"LL(H4)","val":"1.07987","grp":"b","p":1.08455},
{"name":"TDR","val":"50.8","grp":"l","p":1.08385},
{"name":"YDR","val":"32.9","grp":"l","p":1.08350},
{"name":"ADR5","val":"45.3","grp":"l","p":1.08315},
{"name":"ADR20","val":"57.5","grp":"l","p":1.08280}
]
},
"layer":[
{"data":{"name":"bars"},"mark":{"type":"rule","strokeWidth":1},
 "encoding":{
  "x":{"field":"i","type":"quantitative","scale":{"domain":[-0.875,307.125],"nice":false,"zero":false},
   "axis":{"title":null,"orient":"bottom","tickCount":60,"values":[0,16,32,48,64,80,96,112,128,144,160,176,192,208,224,240,256,272,288,304],"labelAlign":"left","labelBaseline":"top","labelOffset":-5,"labelOverlap":false,"labelFlush":false,
   "labelExpr":"['12 Feb 2024','12 Feb 17:00','13 Feb 09:00','14 Feb 01:00','14 Feb 17:00','15 Feb 09:00','16 Feb 01:00','16 Feb 17:00','19 Feb 09:00','20 Feb 01:00','20 Feb 17:00','21 Feb 09:00','22 Feb 01:00','22 Feb 17:00','23 Feb 09:00','26 Feb 01:00','26 Feb 17:00','27 Feb 09:00','28 Feb 01:00','28 Feb 17:00'][round(datum.value/16)]"}},
  "y":{"field":"l","type":"quantitative","scale":{"domain":[1.0689188,1.0898348],"nice":false,"zero":false},
   "axis":{"title":null,"orient":"right","format":".5f","tickCount":60,"labelAlign":"left","labelBaseline":"middle","labelOverlap":false,"labelFlush":false,"labelBound":false,"values":[1.069,1.0699,1.0708,1.0717,1.0726,1.0735,1.0744,1.0753,1.0762,1.0771,1.078,1.0789,1.0798,1.0807,1.0816,1.0825,1.0834,1.0843,1.0852,1.0861,1.087,1.0879,1.0888,1.0897]}},
  "y2":{"field":"h"},
  "color":{"condition":{"test":"datum.c >= datum.o","value":"#8e8e9c"},"value":"#56565e"}
 }},
{"data":{"name":"bars"},"mark":{"type":"bar","size":3},
 "encoding":{
  "x":{"field":"i","type":"quantitative","title":null},
  "y":{"field":"o","type":"quantitative","title":null},
  "y2":{"field":"c"},
  "color":{"condition":{"test":"datum.c >= datum.o","value":"#9a9aa8"},"value":"#56565e"}
 }},
{"data":{"name":"levels"},"mark":{"type":"rule","color":"#5a5a64","strokeWidth":1},
 "encoding":{"y":{"field":"p","type":"quantitative","title":null}}},
{"data":{"name":"ma_slow"},"mark":{"type":"line","color":"#1e90ff","strokeWidth":1.2},
 "encoding":{"x":{"field":"i","type":"quantitative","title":null},"y":{"field":"v","type":"quantitative","title":null}}},
{"data":{"name":"ma_fast"},"mark":{"type":"line","color":"#ffff00","strokeWidth":1.2},
 "encoding":{"x":{"field":"i","type":"quantitative","title":null},"y":{"field":"v","type":"quantitative","title":null}}},
{"data":{"name":"lowmark"},"mark":{"type":"rule","color":"#ffffff","strokeWidth":2},
 "encoding":{"x":{"field":"start","type":"quantitative","title":null},"x2":{"field":"end"},"y":{"field":"p","type":"quantitative","title":null}}},
{"data":{"values":[{}]},"mark":{"type":"rect","fill":"#a9a9a9"},
 "encoding":{"x":{"datum":273.9,"type":"quantitative"},"x2":{"datum":306.4},"y":{"datum":1.0897,"type":"quantitative"},"y2":{"datum":1.08237}}},
{"data":{"values":[{}]},"mark":{"type":"text","text":"EU","font":"Liberation Serif","fontSize":29,"color":"#ffd700","align":"left","baseline":"alphabetic"},
 "encoding":{"x":{"datum":275.4,"type":"quantitative"},"y":{"datum":1.08877,"type":"quantitative"}}},
{"data":{"values":[{}]},"mark":{"type":"text","text":"1.08327","font":"Liberation Mono","fontSize":18,"color":"#00ff00","align":"left","baseline":"alphabetic"},
 "encoding":{"x":{"datum":286.1,"type":"quantitative"},"y":{"datum":1.08899,"type":"quantitative"}}},
{"data":{"values":[{}]},"mark":{"type":"text","text":"1.08343","font":"Liberation Mono","fontSize":11.5,"color":"#8b1a1a","align":"left","baseline":"alphabetic"},
 "encoding":{"x":{"datum":286.6,"type":"quantitative"},"y":{"datum":1.08877,"type":"quantitative"}}},
{"data":{"values":[{}]},"mark":{"type":"text","text":"SP  1.6","font":"Liberation Mono","fontSize":11,"color":"#3ee6e6","align":"left","baseline":"alphabetic"},
 "encoding":{"x":{"datum":287.1,"type":"quantitative"},"y":{"datum":1.08841,"type":"quantitative"}}},
{"data":{"name":"info"},"mark":{"type":"text","font":"Liberation Mono","fontSize":11,"align":"right","baseline":"alphabetic"},
 "encoding":{"x":{"datum":289.4,"type":"quantitative"},"y":{"field":"p","type":"quantitative","title":null},"text":{"field":"name"},
  "color":{"field":"grp","type":"nominal","legend":null,"scale":{"domain":["r","b","l"],"range":["#8b1a1a","#1c1cf0","#a8d4e4"]}}}},
{"data":{"name":"info"},"mark":{"type":"text","font":"Liberation Mono","fontSize":11,"align":"left","baseline":"alphabetic"},
 "encoding":{"x":{"datum":292.9,"type":"quantitative"},"y":{"field":"p","type":"quantitative","title":null},"text":{"field":"val"},
  "color":{"field":"grp","type":"nominal","legend":null}}},
{"data":{"values":[{}]},"mark":{"type":"text","text":"EURUSD,H1","font":"Liberation Sans","fontSize":9.5,"color":"#e6e6e6","align":"left","baseline":"middle"},
 "encoding":{"x":{"datum":3.6,"type":"quantitative"},"y":{"datum":1.08962,"type":"quantitative"}}},
{"data":{"values":[{}]},"mark":{"type":"point","shape":"triangle-down","filled":true,"size":22,"color":"#ffffff","opacity":1},
 "encoding":{"x":{"datum":0.9,"type":"quantitative"},"y":{"datum":1.08964,"type":"quantitative"}}},
{"data":{"values":[{}]},"mark":{"type":"rect","fill":"#a4a4a4"},
 "encoding":{"x":{"datum":308.3,"type":"quantitative"},"x2":{"datum":318.3},"y":{"datum":1.08340,"type":"quantitative"},"y2":{"datum":1.08312}}},
{"data":{"name":"levels"},"mark":{"type":"text","font":"Liberation Sans","fontSize":9.5,"color":"#1a1a1a","align":"left","baseline":"middle"},
 "encoding":{"x":{"datum":308.9,"type":"quantitative"},"y":{"field":"p","type":"quantitative","title":null},"text":{"field":"p","type":"quantitative","format":".5f"}}}
]
}
